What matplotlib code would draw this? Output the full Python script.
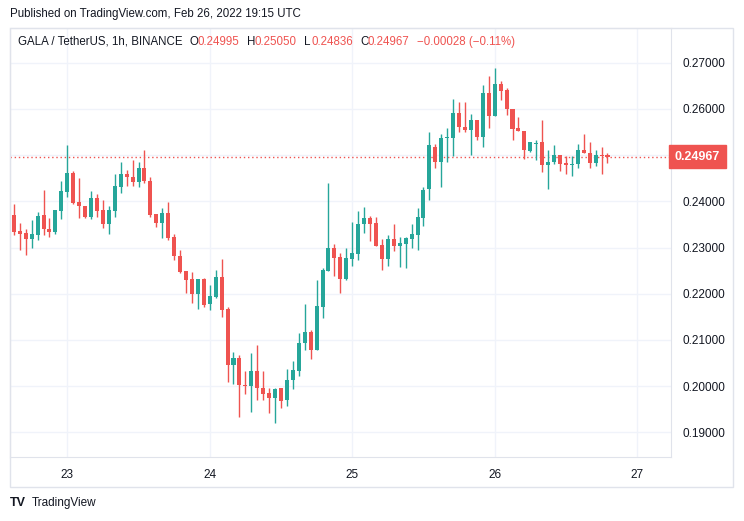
import matplotlib
matplotlib.use("Agg")
import matplotlib.pyplot as plt
import matplotlib.dates as mdates
import matplotlib.transforms as mtransforms
from matplotlib.patches import Rectangle
import pandas as pd

# GALA/USDT 1h candles, Feb 22 15:00 -> Feb 26 19:00 UTC
opens = [0.2371, 0.2336, 0.2332, 0.2319, 0.2328, 0.2371, 0.2340, 0.2334, 0.2380, 0.2421,
         0.2462, 0.2399, 0.2390, 0.2367, 0.2408, 0.2382, 0.2350, 0.2380, 0.2432, 0.2458,
         0.2453, 0.2441, 0.2473, 0.2445, 0.2373, 0.2352, 0.2375, 0.2323, 0.2282, 0.2249,
         0.2232, 0.2200, 0.2232, 0.2177, 0.2193, 0.2236, 0.2166, 0.2045, 0.2062, 0.2003,
         0.2000, 0.2032, 0.1997, 0.1986, 0.1974, 0.1995, 0.1969, 0.2013, 0.2032, 0.2093,
         0.2118, 0.2078, 0.2171, 0.2250, 0.2299, 0.2279, 0.2232, 0.2276, 0.2286, 0.2351,
         0.2364, 0.2353, 0.2305, 0.2275, 0.2318, 0.2304, 0.2308, 0.2319, 0.2328, 0.2363,
         0.2426, 0.2518, 0.2484, 0.2536, 0.2536, 0.2590, 0.2561, 0.2554, 0.2575, 0.2539,
         0.2634, 0.2584, 0.2653, 0.2640, 0.2600, 0.2558, 0.2553, 0.2508, 0.2525, 0.2529,
         0.2478, 0.2485, 0.2500, 0.2482, 0.2478, 0.2480, 0.2512, 0.2504, 0.2482, 0.2500,
         0.24995]
highs = [0.2395, 0.2353, 0.2339, 0.2360, 0.2377, 0.2425, 0.2364, 0.2382, 0.2445, 0.2521,
         0.2466, 0.2450, 0.2390, 0.2422, 0.2415, 0.2402, 0.2389, 0.2458, 0.2485, 0.2468,
         0.2490, 0.2485, 0.2512, 0.2453, 0.2373, 0.2385, 0.2399, 0.2329, 0.2295, 0.2249,
         0.2247, 0.2232, 0.2234, 0.2219, 0.2251, 0.2275, 0.2171, 0.2073, 0.2068, 0.2032,
         0.2071, 0.2090, 0.2032, 0.1997, 0.1995, 0.1995, 0.2038, 0.2055, 0.2116, 0.2177,
         0.2122, 0.2229, 0.2255, 0.2440, 0.2308, 0.2288, 0.2299, 0.2356, 0.2379, 0.2388,
         0.2369, 0.2366, 0.2318, 0.2327, 0.2351, 0.2323, 0.2323, 0.2351, 0.2386, 0.2432,
         0.2551, 0.2523, 0.2545, 0.2558, 0.2621, 0.2614, 0.2614, 0.2588, 0.2575, 0.2651,
         0.2671, 0.2688, 0.2660, 0.2645, 0.2600, 0.2582, 0.2553, 0.2529, 0.2532, 0.2575,
         0.2512, 0.2522, 0.2500, 0.2497, 0.2498, 0.2523, 0.2545, 0.2529, 0.2510, 0.2518,
         0.25050]
lows = [0.2328, 0.2295, 0.2284, 0.2300, 0.2317, 0.2328, 0.2323, 0.2329, 0.2362, 0.2409,
        0.2395, 0.2364, 0.2364, 0.2362, 0.2365, 0.2343, 0.2329, 0.2367, 0.2418, 0.2434,
        0.2434, 0.2432, 0.2439, 0.2367, 0.2344, 0.2321, 0.2317, 0.2274, 0.2245, 0.2201,
        0.2179, 0.2168, 0.2172, 0.2165, 0.2190, 0.2150, 0.2010, 0.2004, 0.1934, 0.1982,
        0.1943, 0.1971, 0.1969, 0.1942, 0.1921, 0.1952, 0.1958, 0.1993, 0.2021, 0.2079,
        0.2058, 0.2078, 0.2147, 0.2250, 0.2238, 0.2202, 0.2230, 0.2260, 0.2274, 0.2332,
        0.2315, 0.2304, 0.2252, 0.2260, 0.2293, 0.2258, 0.2256, 0.2300, 0.2295, 0.2347,
        0.2402, 0.2471, 0.2432, 0.2484, 0.2499, 0.2550, 0.2550, 0.2500, 0.2532, 0.2517,
        0.2558, 0.2584, 0.2619, 0.2587, 0.2532, 0.2552, 0.2491, 0.2507, 0.2489, 0.2463,
        0.2426, 0.2481, 0.2465, 0.2458, 0.2455, 0.2472, 0.2504, 0.2472, 0.2476, 0.2458,
        0.24836]
closes = [0.2334, 0.2330, 0.2319, 0.2329, 0.2369, 0.2339, 0.2334, 0.2382, 0.2422, 0.2462,
          0.2397, 0.2389, 0.2367, 0.2408, 0.2378, 0.2350, 0.2382, 0.2434, 0.2458, 0.2452,
          0.2441, 0.2473, 0.2443, 0.2371, 0.2352, 0.2374, 0.2321, 0.2282, 0.2247, 0.2230,
          0.2200, 0.2232, 0.2175, 0.2195, 0.2236, 0.2164, 0.2045, 0.2062, 0.2002, 0.2000,
          0.2032, 0.1995, 0.1984, 0.1974, 0.1993, 0.1967, 0.2014, 0.2036, 0.2094, 0.2118,
          0.2079, 0.2173, 0.2251, 0.2299, 0.2277, 0.2232, 0.2277, 0.2288, 0.2351, 0.2364,
          0.2351, 0.2304, 0.2275, 0.2318, 0.2304, 0.2310, 0.2321, 0.2329, 0.2366, 0.2425,
          0.2521, 0.2484, 0.2538, 0.2538, 0.2590, 0.2561, 0.2554, 0.2575, 0.2539, 0.2634,
          0.2584, 0.2653, 0.2639, 0.2600, 0.2556, 0.2552, 0.2510, 0.2529, 0.2527, 0.2478,
          0.2485, 0.2500, 0.2480, 0.2478, 0.2481, 0.2512, 0.2504, 0.2482, 0.2500, 0.2497,
          0.24967]
times = pd.date_range("2022-02-22 15:00", periods=len(opens), freq="h")

price_ticks = [0.19, 0.20, 0.21, 0.22, 0.23, 0.24, 0.25, 0.26, 0.27]
day_ticks = pd.date_range("2022-02-23", "2022-02-27", freq="D")
last_price = 0.24967

UP = "#26a69a"
DOWN = "#ef5350"
GRID = "#f0f3fa"
BORDER = "#e0e3eb"
TEXT = "#131722"

W, H = 744, 521
fig = plt.figure(figsize=(W / 100, H / 100), dpi=100)
plt.rcParams["font.family"] = ["Liberation Sans", "DejaVu Sans"]


def fx(px):
    return px / W


def fy(py):
    return 1 - py / H


# outer frame (chart + both scales)
fig.add_artist(Rectangle((fx(10), fy(487)), fx(723), (487 - 28) / H,
                         transform=fig.transFigure, fill=False,
                         edgecolor=BORDER, lw=1))

ax = fig.add_axes([fx(10), fy(457), fx(661), (457 - 28) / H])

x = mdates.date2num(times)
bar_w = 0.68 / 24
for xi, o, h, l, c in zip(x, opens, highs, lows, closes):
    col = UP if c >= o else DOWN
    ax.vlines(xi, l, h, color=col, lw=1, zorder=3)
    body = max(abs(c - o), 0.00022)
    ax.bar(xi, body, bottom=min(o, c), width=bar_w, color=col,
           edgecolor=col, lw=0, zorder=4)

ax.axhline(last_price, color=DOWN, lw=1, linestyle=(0, (1, 2)), zorder=2)

t0 = mdates.date2num(pd.Timestamp("2022-02-23"))
ax.set_xlim(t0 - 9.65 / 24, t0 + 101.7 / 24)
ax.set_ylim(0.18467, 0.2775)

ax.yaxis.tick_right()
ax.set_yticks(price_ticks)
# the 0.25 label sits under the last-price tag
ax.set_yticklabels([f"{p:.5f}" if abs(p - last_price) > 0.002 else ""
                    for p in price_ticks])
ax.set_xticks(mdates.date2num(day_ticks))
ax.xaxis.set_major_formatter(mdates.DateFormatter("%-d"))
ax.tick_params(axis="y", length=0, pad=8, labelsize=8.5, labelcolor=TEXT)
ax.tick_params(axis="x", length=0, pad=9, labelsize=8.5, labelcolor=TEXT)
ax.grid(True, color=GRID, lw=1, zorder=0)
for s in ax.spines.values():
    s.set_color(BORDER)

# last price label on the price scale
trans = mtransforms.blended_transform_factory(ax.transAxes, ax.transData)
ax.text(1.006, last_price, f"{last_price:.5f}", transform=trans,
        ha="left", va="center", color="white", fontsize=9, fontweight="bold",
        bbox=dict(boxstyle="square,pad=0.45", fc=DOWN, ec=DOWN), zorder=6)

# header
fig.text(fx(10), fy(14), "Published on TradingView.com, Feb 26, 2022 19:15 UTC",
         ha="left", va="center", fontsize=8.3, color=TEXT)
legend_parts = [
    (18, "GALA / TetherUS, 1h, BINANCE", TEXT),
    (190, "O", TEXT), (198, "0.24995", DOWN),
    (247, "H", TEXT), (255, "0.25050", DOWN),
    (304, "L", TEXT), (311, "0.24836", DOWN),
    (360, "C", TEXT), (368, "0.24967", DOWN),
    (417, "\u22120.00028 (\u22120.11%)", DOWN),
]
for px, s, col in legend_parts:
    fig.text(fx(px), fy(42), s, ha="left", va="center", fontsize=8.3, color=col)

# footer
fig.text(fx(10), fy(503), "TV", ha="left", va="center", fontsize=9,
         fontweight="heavy", color=TEXT)
fig.text(fx(32), fy(503), "TradingView", ha="left", va="center",
         fontsize=8.5, color=TEXT)

fig.savefig("out.png", dpi=100)
